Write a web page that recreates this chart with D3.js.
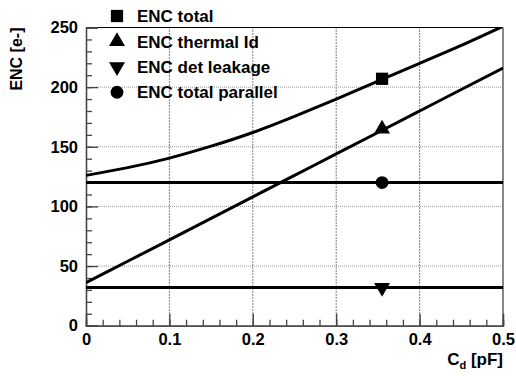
<!DOCTYPE html>
<html>
<head>
<meta charset="utf-8">
<script src="https://cdn.jsdelivr.net/npm/d3@7"></script>
<style>
  body { margin: 0; background: #fff; }
  text { font-family: "Liberation Sans", Arial, sans-serif; font-weight: bold; }
</style>
</head>
<body>
<div id="chart"></div>
<script>
// values
var cd = [0, 0.05, 0.1, 0.15, 0.2, 0.25, 0.3, 0.35, 0.4, 0.45, 0.5];
var encTotal = [126, 132.5, 140.5, 150.5, 162, 175.5, 190, 205, 220, 235, 251];
var encThermal = [36, 54, 72, 90, 108, 126, 144, 162, 180, 198, 216];
var encLeak = [32, 32, 32, 32, 32, 32, 32, 32, 32, 32, 32];
var encParallel = [120, 120, 120, 120, 120, 120, 120, 120, 120, 120, 120];

var markerX = 0.355;
var markerY = [207, 165, 32, 120];
var legendNames = ["ENC total", "ENC thermal Id", "ENC det leakage", "ENC total parallel"];
var markerShapes = ["square", "up", "down", "circle"];

var xTicks = [0, 0.1, 0.2, 0.3, 0.4, 0.5];
var yTicks = [0, 50, 100, 150, 200, 250];

var W = 516, H = 376;
var pLeft = 86, pRight = 503, pTop = 27.5, pBottom = 325.7;

var svg = d3.select("#chart").append("svg")
  .attr("width", W)
  .attr("height", H);

var x = d3.scaleLinear().domain([0, 0.5]).range([pLeft, pRight]);
var y = d3.scaleLinear().domain([0, 250]).range([pBottom, pTop]);

svg.append("clipPath").attr("id", "clip")
  .append("rect")
  .attr("x", pLeft).attr("y", pTop)
  .attr("width", pRight - pLeft).attr("height", pBottom - pTop);

// grid
svg.selectAll(".vgrid")
  .data(xTicks.filter(function(d) { return d > 0 && d < 0.5; }))
  .enter().append("line")
  .attr("x1", function(d) { return x(d); })
  .attr("x2", function(d) { return x(d); })
  .attr("y1", pTop).attr("y2", pBottom)
  .attr("stroke", "#000")
  .attr("stroke-width", 1)
  .attr("stroke-dasharray", "1,2");

svg.selectAll(".hgrid")
  .data(yTicks.filter(function(d) { return d > 0 && d < 250; }))
  .enter().append("line")
  .attr("x1", pLeft).attr("x2", pRight)
  .attr("y1", function(d) { return y(d); })
  .attr("y2", function(d) { return y(d); })
  .attr("stroke", "#999")
  .attr("stroke-width", 1)
  .attr("stroke-dasharray", "1,1");

// frame: top black, right grey
svg.append("line")
  .attr("x1", pLeft).attr("x2", pRight)
  .attr("y1", pTop).attr("y2", pTop)
  .attr("stroke", "#000").attr("stroke-width", 1);
svg.append("line")
  .attr("x1", pRight).attr("x2", pRight)
  .attr("y1", pTop).attr("y2", pBottom)
  .attr("stroke", "#888").attr("stroke-width", 2);

// axes with inward ticks
var yAxis = d3.axisLeft(y).tickValues(yTicks).tickSize(-12).tickPadding(8);
var yMinor = d3.axisLeft(y).tickValues(d3.range(0, 251, 10)).tickSize(-6).tickFormat("");
var xAxis = d3.axisBottom(x).tickValues(xTicks).tickSize(-12).tickPadding(8)
  .tickFormat(function(d) { return d === 0 ? "0" : d3.format(".1f")(d); });
var xMinor = d3.axisBottom(x).tickValues(d3.range(0, 0.5001, 0.02)).tickSize(-6).tickFormat("");

svg.append("g").attr("transform", "translate(" + pLeft + ",0)").call(yMinor);
var gy = svg.append("g").attr("transform", "translate(" + pLeft + ",0)").call(yAxis);
svg.append("g").attr("transform", "translate(0," + pBottom + ")").call(xMinor);
var gx = svg.append("g").attr("transform", "translate(0," + pBottom + ")").call(xAxis);

svg.selectAll(".domain").attr("stroke", "#444").attr("stroke-width", 1.3);
svg.selectAll(".tick line").attr("stroke", "#444").attr("stroke-width", 1.3);
svg.selectAll(".tick text")
  .attr("fill", "#000")
  .style("font-size", "16.5px")
  .style("font-family", "Liberation Sans, Arial, sans-serif")
  .style("font-weight", "bold");

// curves
var series = [encTotal, encThermal, encLeak, encParallel];
var line = d3.line()
  .x(function(d, i) { return x(cd[i]); })
  .y(function(d) { return y(d); })
  .curve(d3.curveNatural);

svg.append("g").attr("clip-path", "url(#clip)")
  .selectAll("path")
  .data(series)
  .enter().append("path")
  .attr("d", line)
  .attr("fill", "none")
  .attr("stroke", "#000")
  .attr("stroke-width", 3);

function symbolPath(shape) {
  if (shape === "square") return d3.symbol().type(d3.symbolSquare).size(150)();
  if (shape === "circle") return d3.symbol().type(d3.symbolCircle).size(130)();
  return d3.symbol().type(d3.symbolTriangle).size(110)();
}
function symbolRot(shape) {
  return shape === "down" ? " rotate(180)" : "";
}

// markers on the curves
svg.selectAll(".marker")
  .data(markerY)
  .enter().append("path")
  .attr("d", function(d, i) { return symbolPath(markerShapes[i]); })
  .attr("transform", function(d, i) {
    return "translate(" + x(markerX) + "," + y(d) + ")" + symbolRot(markerShapes[i]);
  })
  .attr("fill", "#000");

// legend
var leg = svg.selectAll(".leg")
  .data(legendNames)
  .enter().append("g")
  .attr("transform", function(d, i) { return "translate(117," + (16 + i * 25.4) + ")"; });

leg.append("path")
  .attr("d", function(d, i) { return symbolPath(markerShapes[i]); })
  .attr("transform", function(d, i) { return symbolRot(markerShapes[i]); })
  .attr("fill", "#000");

leg.append("text")
  .attr("x", 20)
  .attr("dy", "0.36em")
  .style("font-size", "17px")
  .text(function(d) { return d; });

// axis titles
svg.append("text")
  .attr("transform", "translate(22," + pTop + ") rotate(-90)")
  .attr("text-anchor", "end")
  .style("font-size", "16px")
  .text("ENC [e-]");

var xt = svg.append("text")
  .attr("x", pRight)
  .attr("y", 365)
  .attr("text-anchor", "end")
  .style("font-size", "17px");
xt.append("tspan").text("C");
xt.append("tspan").attr("dy", 4).style("font-size", "11px").text("d");
xt.append("tspan").attr("dy", -4).text(" [pF]");
</script>
</body>
</html>
